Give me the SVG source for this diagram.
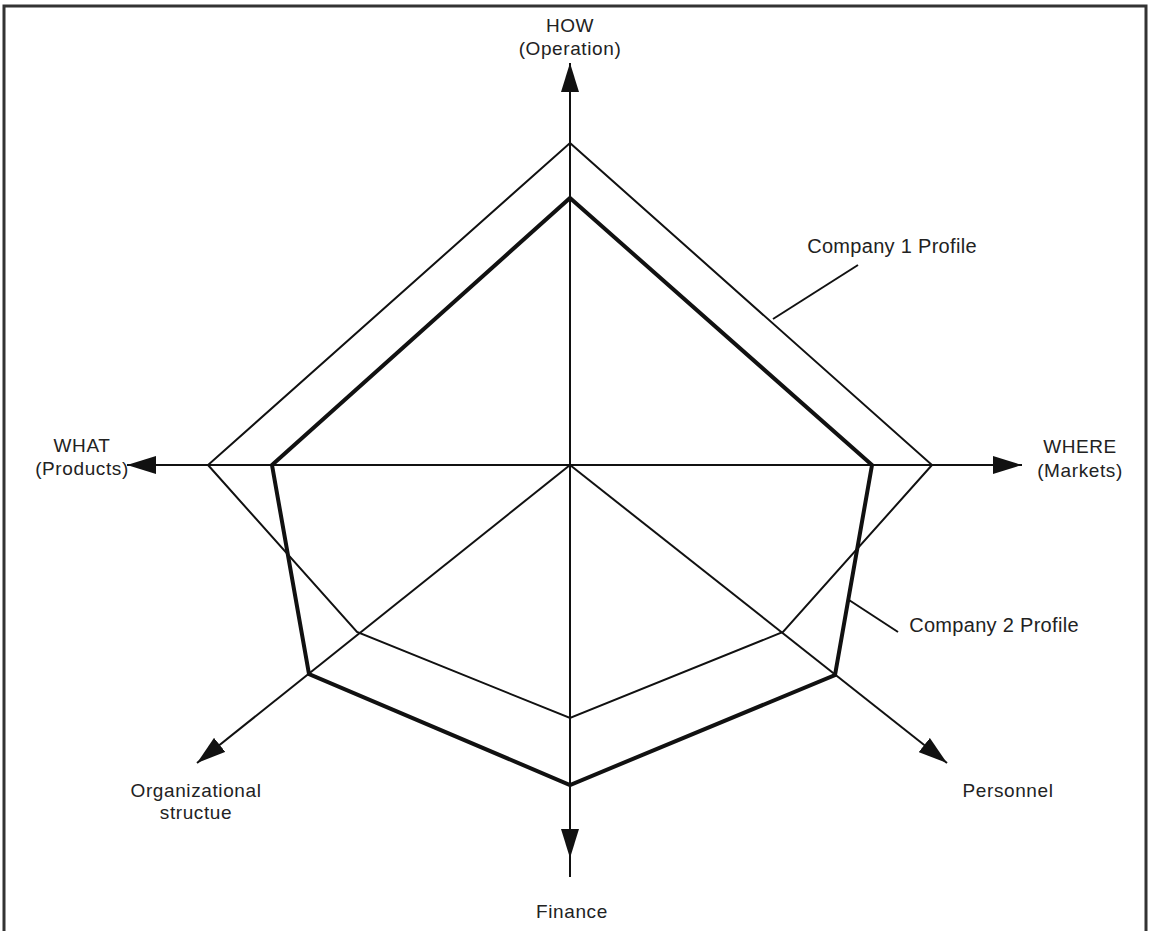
<svg xmlns="http://www.w3.org/2000/svg" width="1149" height="931" viewBox="0 0 1149 931">
<style>
  .lbl { font-family: "Liberation Sans", Arial, sans-serif; font-size: 19px; fill: #222; text-anchor: middle; letter-spacing: 0.6px; }
  .axis { stroke: #111; stroke-width: 2; fill: none; }
  .p1 { stroke: #111; stroke-width: 2; fill: none; stroke-linejoin: miter; }
  .p2 { stroke: #111; stroke-width: 4; fill: none; stroke-linejoin: miter; }
  .lead { stroke: #111; stroke-width: 2; fill: none; }
</style>
<defs>
  <marker id="ah" viewBox="0 0 29 18" markerWidth="29" markerHeight="18" refX="29" refY="9" orient="auto" markerUnits="userSpaceOnUse">
    <path d="M0,0 L29,9 L0,18 z" fill="#111"/>
  </marker>
</defs>
<rect width="1149" height="931" fill="#fff"/>
<path d="M4,931 V6 H1146 V931" fill="none" stroke="#333" stroke-width="3"/>

<g id="connectors">
  <line class="axis" x1="570" y1="465" x2="570" y2="63" marker-end="url(#ah)"/>
  <line class="axis" x1="570" y1="465" x2="1022" y2="465" marker-end="url(#ah)"/>
  <line class="axis" x1="570" y1="465" x2="127" y2="465" marker-end="url(#ah)"/>
  <line class="axis" x1="570" y1="465" x2="570" y2="858" marker-end="url(#ah)"/>
  <line class="axis" x1="570" y1="858" x2="570" y2="877"/>
  <line class="axis" x1="570" y1="465" x2="947" y2="763" marker-end="url(#ah)"/>
  <line class="axis" x1="570" y1="465" x2="197" y2="763" marker-end="url(#ah)"/>
</g>

<g id="company1-profile">
  <polygon class="p1" points="570,143 932,465 783,632 570,718 357,632 208,465"/>
  <line class="lead" x1="773" y1="319" x2="858" y2="265"/>
  <text class="lbl" x="892" y="253" style="letter-spacing:0.3px;font-size:20px">Company 1 Profile</text>
</g>

<g id="company2-profile">
  <polygon class="p2" points="570,198 872,465 835,675 570,785 309,674 272,465"/>
  <line class="lead" x1="849" y1="600" x2="898" y2="632"/>
  <text class="lbl" x="994" y="632" style="letter-spacing:0.3px;font-size:20px">Company 2 Profile</text>
</g>

<g id="how">
  <text class="lbl" x="570" y="32">HOW</text>
  <text class="lbl" x="570" y="55">(Operation)</text>
</g>
<g id="what">
  <text class="lbl" x="82" y="452">WHAT</text>
  <text class="lbl" x="82" y="475">(Products)</text>
</g>
<g id="where">
  <text class="lbl" x="1080" y="453">WHERE</text>
  <text class="lbl" x="1080" y="477">(Markets)</text>
</g>
<g id="organizational-structure">
  <text class="lbl" x="196" y="797">Organizational</text>
  <text class="lbl" x="196" y="819">structue</text>
</g>
<g id="finance">
  <text class="lbl" x="572" y="918">Finance</text>
</g>
<g id="personnel">
  <text class="lbl" x="1008" y="797">Personnel</text>
</g>
</svg>
